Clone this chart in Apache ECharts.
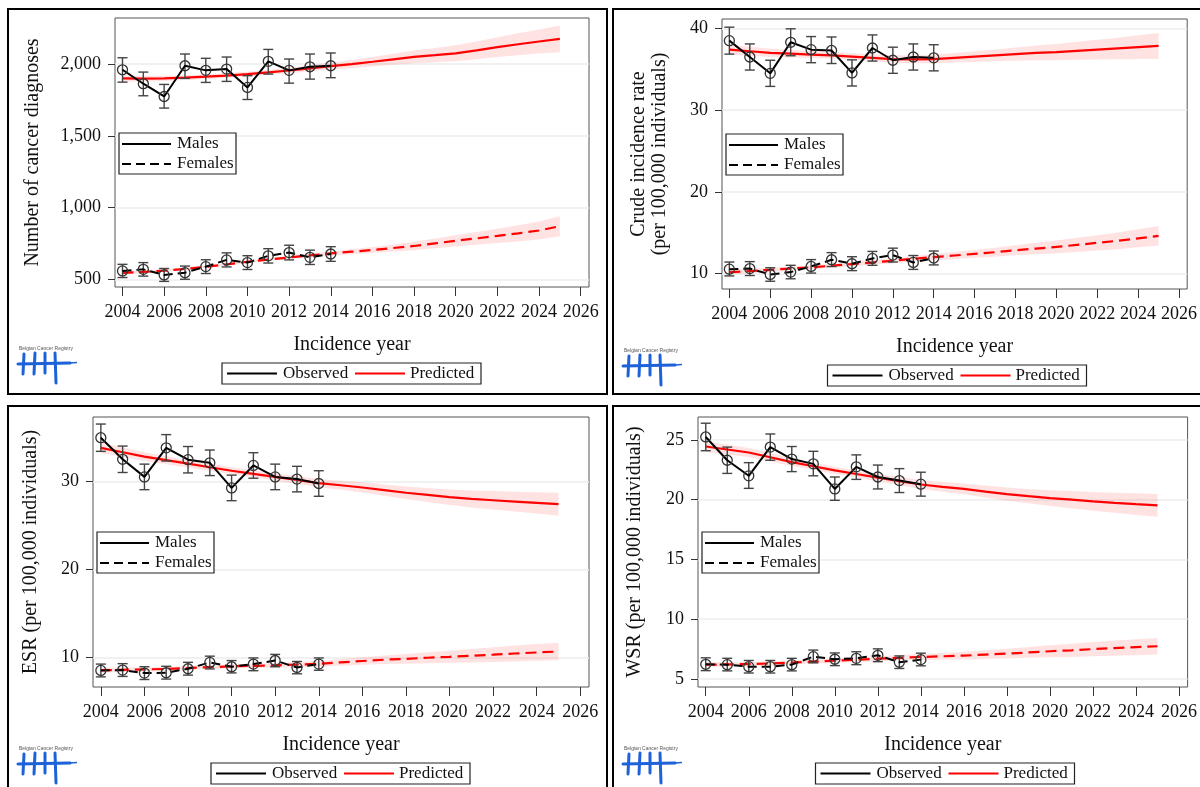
<!DOCTYPE html>
<html>
<head>
<meta charset="utf-8">
<script src="https://cdn.jsdelivr.net/npm/echarts@6/dist/echarts.min.js"></script>
<style>
  html, body { margin: 0; padding: 0; background: #fff; }
  #chart { width: 1200px; height: 787px; }
</style>
</head>
<body>
<div id="chart"></div>
<script>
// ---- shared axes ----
const obsYears  = [2004, 2005, 2006, 2007, 2008, 2009, 2010, 2011, 2012, 2013, 2014];
const predYears = [2004, 2005, 2006, 2007, 2008, 2009, 2010, 2011, 2012, 2013, 2014,
                   2015, 2016, 2017, 2018, 2019, 2020, 2021, 2022, 2023, 2024, 2025];
const yearTicks = [2004, 2006, 2008, 2010, 2012, 2014, 2016, 2018, 2020, 2022, 2024, 2026];

// ---- number of cancer diagnoses ----
const countTicks = [500, 1000, 1500, 2000];
const countMales      = [1960, 1863, 1774, 1988, 1956, 1965, 1837, 2019, 1956, 1981, 1988];
const countMalesLow   = [1874, 1779, 1693, 1900, 1872, 1879, 1753, 1930, 1867, 1895, 1905];
const countMalesHigh  = [2044, 1944, 1858, 2070, 2040, 2049, 1919, 2102, 2035, 2070, 2077];
const countFemales     = [558, 569, 530, 546, 588, 635, 616, 663, 686, 653, 676];
const countFemalesLow  = [512, 522, 485, 500, 540, 586, 568, 613, 635, 603, 625];
const countFemalesHigh = [604, 616, 575, 592, 636, 684, 664, 713, 737, 703, 727];
const countMalesPred   = [1900, 1898, 1900, 1905, 1912, 1920, 1930, 1942, 1955, 1970, 1986,
                          2000, 2016, 2033, 2050, 2062, 2075, 2095, 2118, 2138, 2157, 2175];
const countMalesCI     = [22, 20, 18, 17, 16, 16, 16, 17, 19, 21, 24, 28, 33, 38, 44, 50, 56, 62, 69, 76, 84, 93];
const countFemalesPred = [545, 551, 560, 572, 587, 604, 622, 637, 652, 666, 680,
                          692, 704, 718, 732, 750, 768, 785, 802, 820, 840, 870];
const countFemalesCI   = [12, 11, 10, 10, 9, 9, 9, 10, 11, 12, 14, 17, 21, 25, 29, 34, 39, 44, 50, 56, 63, 70];

// ---- crude incidence rate ----
const crudeTicks = [10, 20, 30, 40];
const crudeMales      = [38.5, 36.5, 34.5, 38.3, 37.4, 37.3, 34.55, 37.6, 36.1, 36.5, 36.4];
const crudeMalesLow   = [36.85, 34.9, 32.9, 36.65, 35.8, 35.7, 32.95, 36.0, 34.5, 34.9, 34.8];
const crudeMalesHigh  = [40.15, 38.1, 36.1, 39.95, 39.0, 38.95, 36.15, 39.2, 37.7, 38.1, 38.0];
const crudeFemales     = [10.53, 10.6, 9.88, 10.17, 10.86, 11.68, 11.19, 11.84, 12.25, 11.35, 11.89];
const crudeFemalesLow  = [9.7, 9.75, 9.05, 9.35, 10.05, 10.85, 10.35, 11.0, 11.4, 10.5, 11.05];
const crudeFemalesHigh = [11.4, 11.45, 10.7, 11.0, 11.7, 12.55, 12.05, 12.7, 13.1, 12.2, 12.75];
const crudeMalesPred   = [37.4, 37.2, 37.0, 36.9, 36.8, 36.7, 36.55, 36.4, 36.25, 36.2, 36.25,
                          36.4, 36.55, 36.7, 36.85, 37.0, 37.1, 37.25, 37.4, 37.55, 37.7, 37.85];
const crudeMalesCI     = [0.6, 0.55, 0.5, 0.45, 0.42, 0.4, 0.4, 0.42, 0.45, 0.48, 0.52,
                          0.58, 0.65, 0.72, 0.8, 0.9, 1.0, 1.1, 1.2, 1.32, 1.45, 1.6];
const crudeFemalesPred = [10.15, 10.3, 10.45, 10.6, 10.75, 10.95, 11.15, 11.35, 11.55, 11.8, 12.0,
                          12.2, 12.4, 12.6, 12.85, 13.05, 13.25, 13.5, 13.75, 14.0, 14.3, 14.6];
const crudeFemalesCI   = [0.3, 0.28, 0.26, 0.25, 0.25, 0.25, 0.26, 0.28, 0.3, 0.33, 0.37,
                          0.42, 0.48, 0.55, 0.62, 0.7, 0.78, 0.86, 0.94, 1.02, 1.1, 1.2];

// ---- European standardised rate ----
const esrTicks = [10, 20, 30];
const esrMales      = [34.95, 32.5, 30.5, 33.8, 32.45, 32.1, 29.25, 31.8, 30.5, 30.25, 29.75];
const esrMalesLow   = [33.4, 31.0, 29.05, 32.3, 30.95, 30.65, 27.8, 30.35, 29.05, 28.8, 28.3];
const esrMalesHigh  = [36.5, 34.0, 31.95, 35.3, 33.95, 33.55, 30.7, 33.25, 31.95, 31.7, 31.2];
const esrFemales     = [8.53, 8.57, 8.23, 8.27, 8.72, 9.44, 8.95, 9.25, 9.66, 8.87, 9.25];
const esrFemalesLow  = [7.8, 7.85, 7.5, 7.55, 8.0, 8.7, 8.25, 8.5, 8.95, 8.15, 8.55];
const esrFemalesHigh = [9.25, 9.3, 8.95, 9.0, 9.45, 10.15, 9.65, 9.95, 10.35, 9.55, 9.95];
const esrMalesPred   = [33.8, 33.3, 32.8, 32.4, 32.0, 31.6, 31.2, 30.85, 30.5, 30.15, 29.8,
                        29.55, 29.3, 29.0, 28.7, 28.45, 28.2, 28.0, 27.85, 27.7, 27.55, 27.4];
const esrMalesCI     = [0.6, 0.55, 0.5, 0.45, 0.42, 0.4, 0.4, 0.4, 0.42, 0.44, 0.47,
                        0.52, 0.58, 0.65, 0.72, 0.8, 0.88, 0.96, 1.04, 1.12, 1.2, 1.3];
const esrFemalesPred = [8.55, 8.6, 8.65, 8.7, 8.8, 8.9, 9.0, 9.05, 9.1, 9.2, 9.28,
                        9.45, 9.6, 9.75, 9.85, 9.97, 10.08, 10.2, 10.32, 10.45, 10.57, 10.68];
const esrFemalesCI   = [0.28, 0.26, 0.24, 0.23, 0.22, 0.22, 0.23, 0.25, 0.27, 0.3, 0.33,
                        0.38, 0.43, 0.49, 0.55, 0.62, 0.69, 0.76, 0.83, 0.9, 0.95, 1.0];

// ---- World standardised rate ----
const wsrTicks = [5, 10, 15, 20, 25];
const wsrMales      = [25.25, 23.3, 22.0, 24.4, 23.4, 23.0, 20.9, 22.75, 21.9, 21.6, 21.3];
const wsrMalesLow   = [24.1, 22.2, 20.95, 23.3, 22.35, 22.0, 19.95, 21.7, 20.9, 20.6, 20.3];
const wsrMalesHigh  = [26.4, 24.4, 23.1, 25.5, 24.45, 24.05, 21.9, 23.75, 22.9, 22.6, 22.3];
const wsrFemales     = [6.23, 6.2, 6.03, 6.03, 6.2, 6.87, 6.65, 6.73, 6.98, 6.4, 6.62];
const wsrFemalesLow  = [5.7, 5.68, 5.5, 5.5, 5.68, 6.35, 6.12, 6.2, 6.45, 5.88, 6.1];
const wsrFemalesHigh = [6.77, 6.73, 6.55, 6.55, 6.73, 7.42, 7.18, 7.28, 7.52, 6.93, 7.16];
const wsrMalesPred   = [24.45, 24.2, 23.95, 23.55, 23.15, 22.8, 22.45, 22.15, 21.85, 21.55, 21.27,
                        21.08, 20.9, 20.68, 20.47, 20.3, 20.14, 20.0, 19.86, 19.74, 19.63, 19.53];
const wsrMalesCI     = [0.45, 0.42, 0.38, 0.35, 0.32, 0.3, 0.3, 0.3, 0.32, 0.34, 0.37,
                        0.41, 0.45, 0.5, 0.55, 0.6, 0.66, 0.72, 0.78, 0.84, 0.9, 0.95];
const wsrFemalesPred = [6.2, 6.22, 6.25, 6.3, 6.38, 6.46, 6.54, 6.62, 6.7, 6.77, 6.84,
                        6.9, 6.96, 7.04, 7.12, 7.22, 7.32, 7.4, 7.5, 7.58, 7.66, 7.74];
const wsrFemalesCI   = [0.2, 0.19, 0.18, 0.17, 0.17, 0.17, 0.18, 0.19, 0.21, 0.23, 0.25,
                        0.28, 0.32, 0.36, 0.4, 0.45, 0.5, 0.55, 0.6, 0.64, 0.67, 0.7];

// ---- styling ----
const SERIF = 'Liberation Serif';
const RED = '#ff0000';
const BAND = 'rgba(255, 60, 60, 0.14)';
const LOGO_BLUE = '#1d62d8';

const panels = [
  { frame: [8, 9], grid: { left: 115, top: 18, width: 474, height: 269 },
    yMin: 446, yMax: 2321, ticks: countTicks, title: 'Number of cancer diagnoses', nameGap: 72,
    fmt: v => v.toLocaleString('en-US'),
    m: [countMales, countMalesLow, countMalesHigh, countMalesPred, countMalesCI],
    f: [countFemales, countFemalesLow, countFemalesHigh, countFemalesPred, countFemalesCI] },
  { frame: [613, 9], grid: { left: 722, top: 19, width: 471, height: 270 },
    yMin: 8.1, yMax: 41.15, ticks: crudeTicks, title: 'Crude incidence rate\n(per 100,000 individuals)', nameGap: 52,
    fmt: v => String(v),
    m: [crudeMales, crudeMalesLow, crudeMalesHigh, crudeMalesPred, crudeMalesCI],
    f: [crudeFemales, crudeFemalesLow, crudeFemalesHigh, crudeFemalesPred, crudeFemalesCI] },
  { frame: [8, 406], grid: { left: 93, top: 417, width: 496, height: 270 },
    yMin: 6.65, yMax: 37.3, ticks: esrTicks, title: 'ESR (per 100,000 individuals)', nameGap: 52,
    fmt: v => String(v),
    m: [esrMales, esrMalesLow, esrMalesHigh, esrMalesPred, esrMalesCI],
    f: [esrFemales, esrFemalesLow, esrFemalesHigh, esrFemalesPred, esrFemalesCI] },
  { frame: [613, 406], grid: { left: 698, top: 417, width: 495, height: 270 },
    yMin: 4.33, yMax: 26.92, ticks: wsrTicks, title: 'WSR (per 100,000 individuals)', nameGap: 53,
    fmt: v => String(v),
    m: [wsrMales, wsrMalesLow, wsrMalesHigh, wsrMalesPred, wsrMalesCI],
    f: [wsrFemales, wsrFemalesLow, wsrFemalesHigh, wsrFemalesPred, wsrFemalesCI] }
];

function bandSeries(i, pred, ci) {
  return {
    type: 'custom', xAxisIndex: i, yAxisIndex: i, silent: true, z: 1, clip: true,
    data: [[predYears[0], pred[0]]],
    encode: { x: 0, y: 1 },
    renderItem: (params, api) => {
      const pts = [];
      for (let k = 0; k < predYears.length; k++) pts.push(api.coord([predYears[k], pred[k] + ci[k]]));
      for (let k = predYears.length - 1; k >= 0; k--) pts.push(api.coord([predYears[k], pred[k] - ci[k]]));
      return { type: 'polygon', shape: { points: pts }, style: { fill: BAND } };
    }
  };
}

function errorSeries(i, low, high) {
  return {
    type: 'custom', xAxisIndex: i, yAxisIndex: i, silent: true, z: 3,
    data: obsYears.map((y, k) => [y, low[k], high[k]]),
    encode: { x: 0, y: [1, 2] },
    renderItem: (params, api) => {
      const lo = api.coord([api.value(0), api.value(1)]);
      const hi = api.coord([api.value(0), api.value(2)]);
      const w = 5;
      const st = { stroke: '#444', lineWidth: 1.4 };
      return { type: 'group', children: [
        { type: 'line', shape: { x1: lo[0], y1: lo[1], x2: hi[0], y2: hi[1] }, style: st },
        { type: 'line', shape: { x1: lo[0] - w, y1: lo[1], x2: lo[0] + w, y2: lo[1] }, style: st },
        { type: 'line', shape: { x1: hi[0] - w, y1: hi[1], x2: hi[0] + w, y2: hi[1] }, style: st }
      ] };
    }
  };
}

function predSeries(i, pred, dashed) {
  return {
    type: 'line', xAxisIndex: i, yAxisIndex: i, z: 2, silent: true,
    data: predYears.map((y, k) => [y, pred[k]]),
    showSymbol: false, smooth: false,
    lineStyle: { color: RED, width: 2.2, type: dashed ? [11, 6] : 'solid' }
  };
}

function obsSeries(i, vals, dashed) {
  return {
    type: 'line', xAxisIndex: i, yAxisIndex: i, z: 4, silent: true,
    data: obsYears.map((y, k) => [y, vals[k]]),
    symbol: 'circle', symbolSize: 10, showSymbol: true,
    itemStyle: { color: 'rgba(255,255,255,0)', borderColor: '#333', borderWidth: 1.3 },
    lineStyle: { color: '#000', width: 2, type: dashed ? [9, 5] : 'solid' }
  };
}

const grids = [], xAxes = [], yAxes = [], series = [], graphics = [];

panels.forEach((p, i) => {
  grids.push(Object.assign({ show: true, borderColor: '#555', borderWidth: 1, backgroundColor: '#fff' }, p.grid));
  xAxes.push({
    gridIndex: i, type: 'value', min: 2003.64, max: 2026.4,
    axisLine: { show: false },
    axisTick: { show: true, length: 9, customValues: yearTicks, lineStyle: { color: '#333' } },
    axisLabel: { customValues: yearTicks, margin: 16, fontFamily: SERIF, fontSize: 18, color: '#111',
                 formatter: v => String(v) },
    splitLine: { show: false },
    name: 'Incidence year', nameLocation: 'middle', nameGap: 48,
    nameTextStyle: { fontFamily: SERIF, fontSize: 20, color: '#111' }
  });
  yAxes.push({
    gridIndex: i, type: 'value', min: p.yMin, max: p.yMax,
    axisLine: { show: false },
    axisTick: { show: true, length: 7, customValues: p.ticks, lineStyle: { color: '#333' } },
    axisLabel: { customValues: p.ticks, margin: 14, fontFamily: SERIF, fontSize: 18, color: '#111', formatter: p.fmt },
    splitLine: { show: true, lineStyle: { color: '#ececec', width: 1.5 } },
    name: p.title, nameLocation: 'middle', nameRotate: 90, nameGap: p.nameGap,
    nameTextStyle: { fontFamily: SERIF, fontSize: 20, color: '#111', lineHeight: 21, align: 'center' }
  });

  series.push(
    bandSeries(i, p.m[3], p.m[4]),
    bandSeries(i, p.f[3], p.f[4]),
    predSeries(i, p.m[3], false),
    predSeries(i, p.f[3], true),
    errorSeries(i, p.m[1], p.m[2]),
    errorSeries(i, p.f[1], p.f[2]),
    obsSeries(i, p.m[0], false),
    obsSeries(i, p.f[0], true)
  );

  // outer frame of the panel
  const [fx, fy] = p.frame;
  graphics.push({ type: 'rect', shape: { x: fx, y: fy, width: 599, height: i < 2 ? 385 : 400 },
    style: { fill: 'none', stroke: '#000', lineWidth: 2 }, z: 0, silent: true });

  // sex legend inside the plot area
  const L = p.grid.left, T = p.grid.top;
  const bx = L + 4, by = T + 115;
  graphics.push(
    { type: 'rect', shape: { x: bx, y: by, width: 117, height: 41 }, style: { fill: '#fff', stroke: '#222', lineWidth: 1.2 }, z: 10 },
    { type: 'line', shape: { x1: bx + 3, y1: by + 11, x2: bx + 52, y2: by + 11 }, style: { stroke: '#000', lineWidth: 2.2 }, z: 11 },
    { type: 'line', shape: { x1: bx + 3, y1: by + 31, x2: bx + 52, y2: by + 31 }, style: { stroke: '#000', lineWidth: 2.2, lineDash: [9, 5] }, z: 11 },
    { type: 'text', x: bx + 58, y: by + 11, style: { text: 'Males', font: '17px "Liberation Serif"', fill: '#111', verticalAlign: 'middle' }, z: 11 },
    { type: 'text', x: bx + 58, y: by + 31, style: { text: 'Females', font: '17px "Liberation Serif"', fill: '#111', verticalAlign: 'middle' }, z: 11 }
  );

  // observed / predicted legend under the axis title
  const cx = L + p.grid.width / 2;
  const B = T + p.grid.height;
  const ly = B + 76;
  graphics.push(
    { type: 'rect', shape: { x: cx - 130, y: ly, width: 259, height: 21 }, style: { fill: '#fff', stroke: '#222', lineWidth: 1.2 }, z: 10 },
    { type: 'line', shape: { x1: cx - 125, y1: ly + 10.5, x2: cx - 75, y2: ly + 10.5 }, style: { stroke: '#000', lineWidth: 2 }, z: 11 },
    { type: 'text', x: cx - 69, y: ly + 10.5, style: { text: 'Observed', font: '17px "Liberation Serif"', fill: '#111', verticalAlign: 'middle' }, z: 11 },
    { type: 'line', shape: { x1: cx + 3, y1: ly + 10.5, x2: cx + 53, y2: ly + 10.5 }, style: { stroke: RED, lineWidth: 2 }, z: 11 },
    { type: 'text', x: cx + 58, y: ly + 10.5, style: { text: 'Predicted', font: '17px "Liberation Serif"', fill: '#111', verticalAlign: 'middle' }, z: 11 }
  );

  // registry logo in the lower-left corner
  const gx = fx, gy = B;
  const logoStroke = { stroke: LOGO_BLUE, lineWidth: 3, lineCap: 'round' };
  graphics.push(
    { type: 'text', x: gx + 11, y: gy + 59, style: { text: 'Belgian Cancer Registry', font: '5px "Liberation Sans"', fill: '#555' }, z: 11 },
    { type: 'line', shape: { x1: gx + 10, y1: gy + 77, x2: gx + 62, y2: gy + 76 }, style: logoStroke, z: 11 },
    { type: 'line', shape: { x1: gx + 62, y1: gy + 76, x2: gx + 69, y2: gy + 75.5 }, style: { stroke: LOGO_BLUE, lineWidth: 1.5 }, z: 11 },
    { type: 'line', shape: { x1: gx + 16, y1: gy + 67, x2: gx + 15, y2: gy + 87 }, style: logoStroke, z: 11 },
    { type: 'line', shape: { x1: gx + 27, y1: gy + 66, x2: gx + 26, y2: gy + 87 }, style: logoStroke, z: 11 },
    { type: 'line', shape: { x1: gx + 37, y1: gy + 66, x2: gx + 37, y2: gy + 86 }, style: logoStroke, z: 11 },
    { type: 'line', shape: { x1: gx + 47, y1: gy + 66, x2: gx + 48, y2: gy + 96 }, style: logoStroke, z: 11 }
  );
});

const chart = echarts.init(document.getElementById('chart'), null, { renderer: 'canvas' });
chart.setOption({
  animation: false,
  backgroundColor: '#fff',
  grid: grids,
  xAxis: xAxes,
  yAxis: yAxes,
  series: series,
  graphic: { elements: graphics }
});
</script>
</body>
</html>
